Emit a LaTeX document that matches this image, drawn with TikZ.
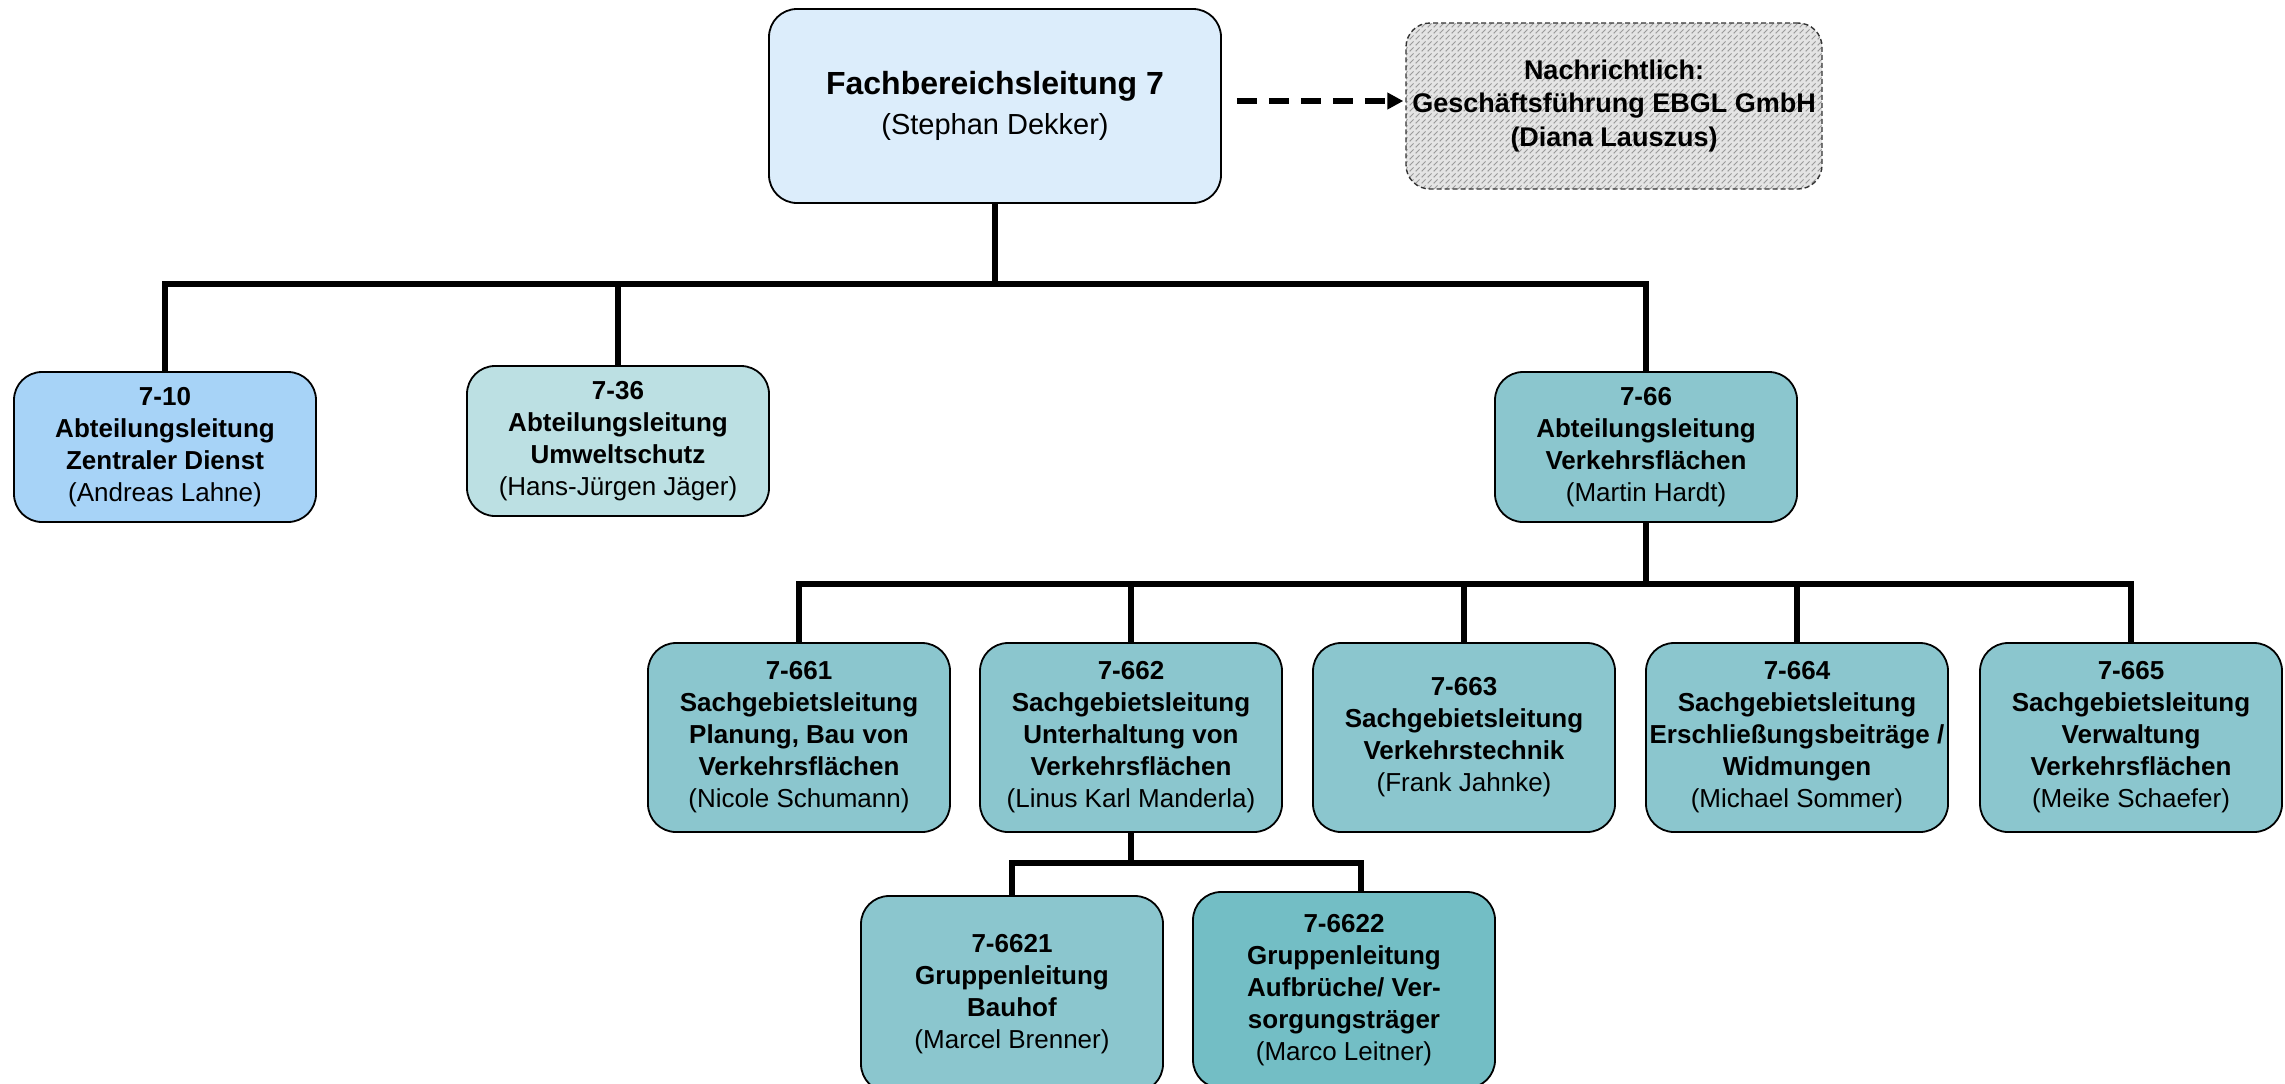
\documentclass[tikz,border=0pt]{standalone}
\usepackage{fontspec}
\setmainfont{Liberation Sans}
\usetikzlibrary{calc,patterns,arrows.meta}
\definecolor{topc}{HTML}{DCEDFB}
\definecolor{bluec}{HTML}{A7D3F7}
\definecolor{mintc}{HTML}{BCE0E3}
\definecolor{tealc}{HTML}{8BC6CE}
\definecolor{teald}{HTML}{73BEC5}
\definecolor{hatchbg}{HTML}{E4E4E4}
\definecolor{hatchln}{HTML}{9A9A9A}
\begin{document}
\begin{tikzpicture}[x=0.5pt,y=-0.5pt,
  box/.style={draw=black, line width=0.9pt, rounded corners=14pt, align=center,
    inner sep=0pt, minimum width=151pt, font=\fontsize{13}{16}\selectfont},
  lvtwo/.style={box, minimum height=75pt},
  lvthree/.style={box, fill=tealc, minimum height=94.5pt},
  lvfour/.style={box, minimum height=98pt},
  conn/.style={line width=2.7pt, line join=miter},
  dasharrow/.style={line width=2.6pt, dash pattern=on 10pt off 6pt,
    -{Triangle[length=8pt,width=8pt]}}]
\useasboundingbox (0,0) rectangle (2285,1083);
\clip (0,0) rectangle (2285,1083);

% top
\node[box, fill=topc, minimum width=226pt, minimum height=97pt,
  font=\fontsize{14.5}{20}\selectfont] (top) at (995,106)
  {{\fontsize{16}{20}\selectfont\bfseries Fachbereichsleitung 7}\\(Stephan Dekker)};
\node[box, rounded corners=12pt, draw=black!80, line width=0.7pt,
  dash pattern=on 2.5pt off 1.5pt,
  preaction={fill=hatchbg}, pattern=north east lines, pattern color=hatchln,
  minimum width=208pt, minimum height=83pt,
  font=\fontsize{13.5}{16.8}\selectfont\bfseries] (nach) at (1614,106)
  {Nachrichtlich:\\Geschäftsführung EBGL GmbH\\(Diana Lauszus)};

% level 2
\node[lvtwo, fill=bluec] (a10) at (165,447)
  {\textbf{7-10}\\\textbf{Abteilungsleitung}\\\textbf{Zentraler Dienst}\\(Andreas Lahne)};
\node[lvtwo, fill=mintc] (a36) at (618,441)
  {\textbf{7-36}\\\textbf{Abteilungsleitung}\\\textbf{Umweltschutz}\\(Hans-Jürgen Jäger)};
\node[lvtwo, fill=tealc] (a66) at (1646,447)
  {\textbf{7-66}\\\textbf{Abteilungsleitung}\\\textbf{Verkehrsflächen}\\(Martin Hardt)};

% level 3
\node[lvthree] (s1) at (799,737.5)
  {\textbf{7-661}\\\textbf{Sachgebietsleitung}\\\textbf{Planung, Bau von}\\\textbf{Verkehrsflächen}\\(Nicole Schumann)};
\node[lvthree] (s2) at (1131,737.5)
  {\textbf{7-662}\\\textbf{Sachgebietsleitung}\\\textbf{Unterhaltung von}\\\textbf{Verkehrsflächen}\\(Linus Karl Manderla)};
\node[lvthree] (s3) at (1464,737.5)
  {\textbf{7-663}\\\textbf{Sachgebietsleitung}\\\textbf{Verkehrstechnik}\\(Frank Jahnke)};
\node[lvthree] (s4) at (1797,737.5)
  {\textbf{7-664}\\\textbf{Sachgebietsleitung}\\\textbf{Erschließungsbeiträge /}\\\textbf{Widmungen}\\(Michael Sommer)};
\node[lvthree] (s5) at (2131,737.5)
  {\textbf{7-665}\\\textbf{Sachgebietsleitung}\\\textbf{Verwaltung}\\\textbf{Verkehrsflächen}\\(Meike Schaefer)};

% level 4
\node[lvfour, fill=tealc] (g1) at (1012,994)
  {\textbf{7-6621}\\\textbf{Gruppenleitung}\\\textbf{Bauhof}\\(Marcel Brenner)};
\node[lvfour, fill=teald] (g2) at (1344,990)
  {\textbf{7-6622}\\\textbf{Gruppenleitung}\\\textbf{Aufbrüche/ Ver-}\\\textbf{sorgungsträger}\\(Marco Leitner)};

% connectors
\coordinate (bus1) at (995,284);
\coordinate (bus2) at (1646,584);
\coordinate (bus3) at (1131,863);
\coordinate (g2r) at ($(g2.north)+(17,0)$);
\coordinate (arrs) at ($(top.east)+(15,-5)$);
\coordinate (arre) at ($(nach.west)+(-2,-5)$);

\draw[conn] (top.south) -- (top.south |- bus1);
\draw[conn] (a10.north) |- (a66.north |- bus1) -- (a66.north);
\draw[conn] (a36.north) -- (a36.north |- bus1);

\draw[conn] (a66.south) -- (a66.south |- bus2);
\draw[conn] (s1.north) |- (s5.north |- bus2) -- (s5.north);
\draw[conn] (s2.north) -- (s2.north |- bus2);
\draw[conn] (s3.north) -- (s3.north |- bus2);
\draw[conn] (s4.north) -- (s4.north |- bus2);

\draw[conn] (s2.south) -- (s2.south |- bus3);
\draw[conn] (g1.north) |- (g2r |- bus3) -- (g2r);

\draw[dasharrow] (arrs) -- (arre);
\end{tikzpicture}
\end{document}
